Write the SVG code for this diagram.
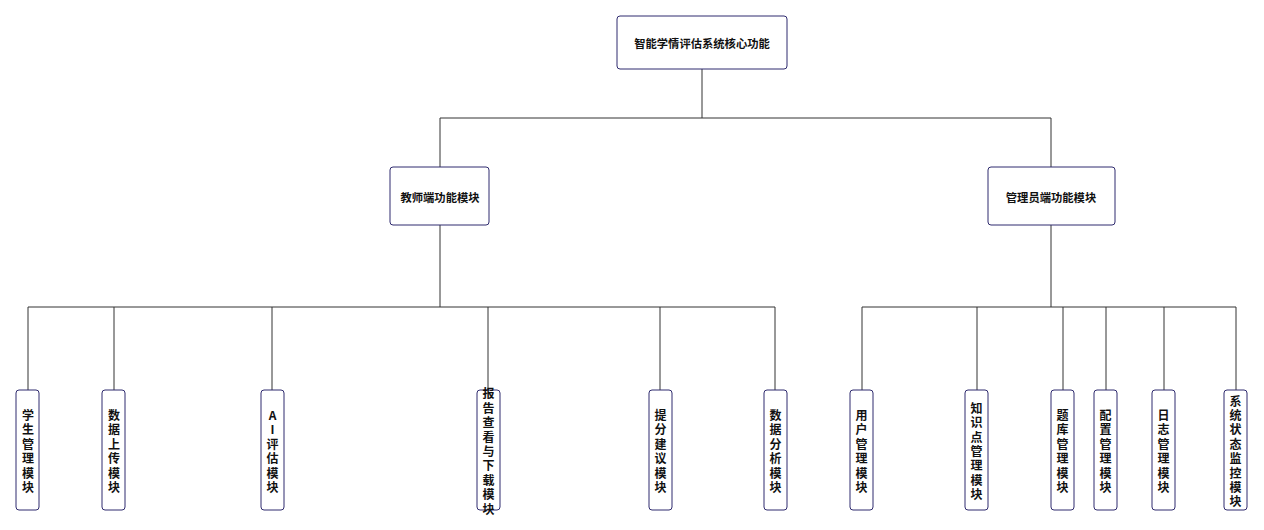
<svg xmlns="http://www.w3.org/2000/svg" width="1264" height="530" viewBox="0 0 1264 530">
<style>
.box{fill:#fff;stroke:#2f2b6e;stroke-width:1}
.t{font-family:"Noto Sans CJK SC","Liberation Sans",sans-serif;font-weight:bold;fill:#111;text-anchor:middle;dominant-baseline:central}
.h{font-size:11.3px}
.v{font-size:12px}
.ln{stroke:#333;stroke-width:1;fill:none}
</style>
<rect width="1264" height="530" fill="#fff"/>
<g id="connectors">
<path class="ln" d="M702 69V118M440 118H1051M440 118V167M1051 118V167"/>
<path class="ln" d="M440 225V307M28 307H775M28 307V390M114 307V390M272 307V390M488 307V390M660 307V390M775 307V390"/>
<path class="ln" d="M1051 225V307M862 307H1236M862 307V390M977 307V390M1063 307V390M1106 307V390M1164 307V390M1236 307V390"/>
</g>
<g id="root"><rect class="box" x="617" y="16" width="170" height="53" rx="3"/><text class="t h" x="702" y="43">智能学情评估系统核心功能</text></g>
<g id="teacher"><rect class="box" x="390" y="167" width="99" height="58" rx="3"/><text class="t h" x="440" y="197">教师端功能模块</text></g>
<g id="admin"><rect class="box" x="988" y="167" width="127" height="58" rx="3"/><text class="t h" x="1051" y="197">管理员端功能模块</text></g>
<g id="n1"><rect class="box" x="16" y="390" width="23" height="120" rx="3"/><text class="t v"><tspan x="28" y="414">学</tspan><tspan x="28" y="428.4">生</tspan><tspan x="28" y="442.8">管</tspan><tspan x="28" y="457.2">理</tspan><tspan x="28" y="471.6">模</tspan><tspan x="28" y="486">块</tspan></text></g>
<g id="n2"><rect class="box" x="102" y="390" width="23" height="120" rx="3"/><text class="t v"><tspan x="114" y="414">数</tspan><tspan x="114" y="428.4">据</tspan><tspan x="114" y="442.8">上</tspan><tspan x="114" y="457.2">传</tspan><tspan x="114" y="471.6">模</tspan><tspan x="114" y="486">块</tspan></text></g>
<g id="n3"><rect class="box" x="261" y="390" width="23" height="120" rx="3"/><text class="t v"><tspan x="272.5" y="414">A</tspan><tspan x="272.5" y="428.4">I</tspan><tspan x="272.5" y="442.8">评</tspan><tspan x="272.5" y="457.2">估</tspan><tspan x="272.5" y="471.6">模</tspan><tspan x="272.5" y="486">块</tspan></text></g>
<g id="n4"><rect class="box" x="477" y="390" width="23" height="120" rx="3"/><text class="t v"><tspan x="488.5" y="392.4">报</tspan><tspan x="488.5" y="406.8">告</tspan><tspan x="488.5" y="421.2">查</tspan><tspan x="488.5" y="435.6">看</tspan><tspan x="488.5" y="450">与</tspan><tspan x="488.5" y="464.4">下</tspan><tspan x="488.5" y="478.8">载</tspan><tspan x="488.5" y="493.2">模</tspan><tspan x="488.5" y="507.6">块</tspan></text></g>
<g id="n5"><rect class="box" x="649" y="390" width="23" height="120" rx="3"/><text class="t v"><tspan x="660.5" y="414">提</tspan><tspan x="660.5" y="428.4">分</tspan><tspan x="660.5" y="442.8">建</tspan><tspan x="660.5" y="457.2">议</tspan><tspan x="660.5" y="471.6">模</tspan><tspan x="660.5" y="486">块</tspan></text></g>
<g id="n6"><rect class="box" x="764" y="390" width="23" height="120" rx="3"/><text class="t v"><tspan x="775.5" y="414">数</tspan><tspan x="775.5" y="428.4">据</tspan><tspan x="775.5" y="442.8">分</tspan><tspan x="775.5" y="457.2">析</tspan><tspan x="775.5" y="471.6">模</tspan><tspan x="775.5" y="486">块</tspan></text></g>
<g id="n7"><rect class="box" x="850" y="390" width="23" height="120" rx="3"/><text class="t v"><tspan x="861.5" y="414">用</tspan><tspan x="861.5" y="428.4">户</tspan><tspan x="861.5" y="442.8">管</tspan><tspan x="861.5" y="457.2">理</tspan><tspan x="861.5" y="471.6">模</tspan><tspan x="861.5" y="486">块</tspan></text></g>
<g id="n8"><rect class="box" x="965" y="390" width="23" height="120" rx="3"/><text class="t v"><tspan x="976.5" y="406.8">知</tspan><tspan x="976.5" y="421.2">识</tspan><tspan x="976.5" y="435.6">点</tspan><tspan x="976.5" y="450">管</tspan><tspan x="976.5" y="464.4">理</tspan><tspan x="976.5" y="478.8">模</tspan><tspan x="976.5" y="493.2">块</tspan></text></g>
<g id="n9"><rect class="box" x="1051" y="390" width="23" height="120" rx="3"/><text class="t v"><tspan x="1062.5" y="414">题</tspan><tspan x="1062.5" y="428.4">库</tspan><tspan x="1062.5" y="442.8">管</tspan><tspan x="1062.5" y="457.2">理</tspan><tspan x="1062.5" y="471.6">模</tspan><tspan x="1062.5" y="486">块</tspan></text></g>
<g id="n10"><rect class="box" x="1094" y="390" width="23" height="120" rx="3"/><text class="t v"><tspan x="1105.5" y="414">配</tspan><tspan x="1105.5" y="428.4">置</tspan><tspan x="1105.5" y="442.8">管</tspan><tspan x="1105.5" y="457.2">理</tspan><tspan x="1105.5" y="471.6">模</tspan><tspan x="1105.5" y="486">块</tspan></text></g>
<g id="n11"><rect class="box" x="1152" y="390" width="23" height="120" rx="3"/><text class="t v"><tspan x="1163.5" y="414">日</tspan><tspan x="1163.5" y="428.4">志</tspan><tspan x="1163.5" y="442.8">管</tspan><tspan x="1163.5" y="457.2">理</tspan><tspan x="1163.5" y="471.6">模</tspan><tspan x="1163.5" y="486">块</tspan></text></g>
<g id="n12"><rect class="box" x="1224" y="390" width="23" height="120" rx="3"/><text class="t v"><tspan x="1235.5" y="399.6">系</tspan><tspan x="1235.5" y="414">统</tspan><tspan x="1235.5" y="428.4">状</tspan><tspan x="1235.5" y="442.8">态</tspan><tspan x="1235.5" y="457.2">监</tspan><tspan x="1235.5" y="471.6">控</tspan><tspan x="1235.5" y="486">模</tspan><tspan x="1235.5" y="500.4">块</tspan></text></g>
</svg>
